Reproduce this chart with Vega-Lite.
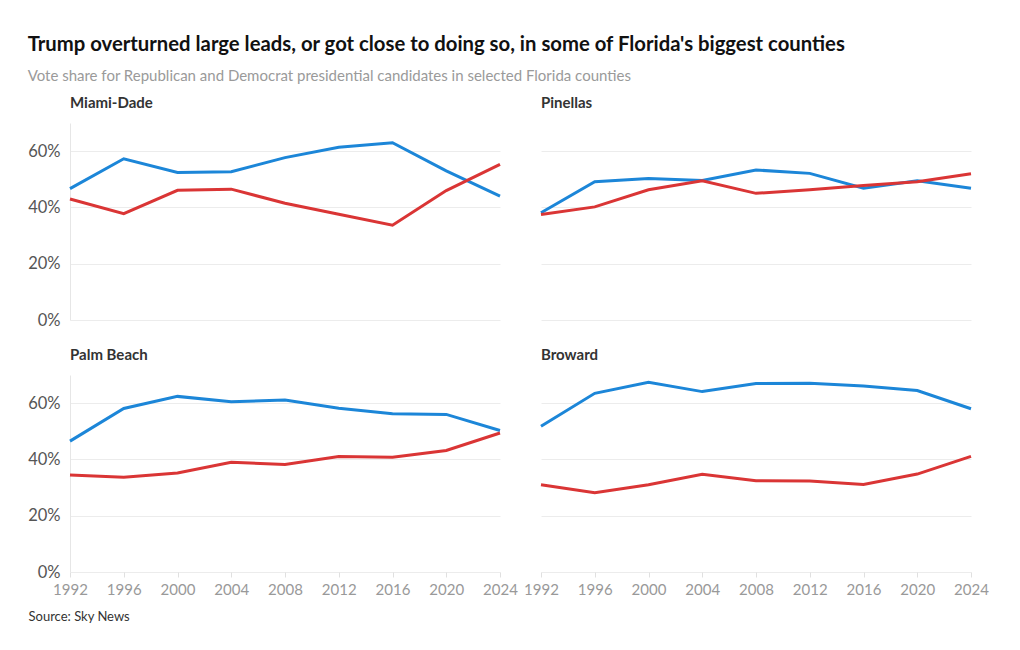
{
  "$schema": "https://vega.github.io/schema/vega-lite/v6.json",
  "padding": {"left": 27, "top": 34, "right": 10, "bottom": 10},
  "background": "white",
  "title": {
    "text": "Trump overturned large leads, or got close to doing so, in some of Florida's biggest counties",
    "subtitle": "Vote share for Republican and Democrat presidential candidates in selected Florida counties",
    "anchor": "start",
    "frame": "bounds",
    "font": "Lato",
    "fontSize": 20.3,
    "fontWeight": "bold",
    "color": "#111111",
    "subtitleFont": "Lato",
    "subtitleFontSize": 15,
    "subtitleColor": "#9a9a9a",
    "subtitlePadding": 14,
    "offset": 12
  },
  "data": {
    "values": [
      {"county": "Miami-Dade", "year": 1992, "party": "Democrat", "share": 46.7},
      {"county": "Miami-Dade", "year": 1996, "party": "Democrat", "share": 57.3},
      {"county": "Miami-Dade", "year": 2000, "party": "Democrat", "share": 52.4},
      {"county": "Miami-Dade", "year": 2004, "party": "Democrat", "share": 52.7},
      {"county": "Miami-Dade", "year": 2008, "party": "Democrat", "share": 57.7},
      {"county": "Miami-Dade", "year": 2012, "party": "Democrat", "share": 61.4},
      {"county": "Miami-Dade", "year": 2016, "party": "Democrat", "share": 63.0},
      {"county": "Miami-Dade", "year": 2020, "party": "Democrat", "share": 53.0},
      {"county": "Miami-Dade", "year": 2024, "party": "Democrat", "share": 44.0},
      {"county": "Miami-Dade", "year": 1992, "party": "Republican", "share": 43.0},
      {"county": "Miami-Dade", "year": 1996, "party": "Republican", "share": 37.8},
      {"county": "Miami-Dade", "year": 2000, "party": "Republican", "share": 46.1},
      {"county": "Miami-Dade", "year": 2004, "party": "Republican", "share": 46.5},
      {"county": "Miami-Dade", "year": 2008, "party": "Republican", "share": 41.5},
      {"county": "Miami-Dade", "year": 2012, "party": "Republican", "share": 37.6},
      {"county": "Miami-Dade", "year": 2016, "party": "Republican", "share": 33.7},
      {"county": "Miami-Dade", "year": 2020, "party": "Republican", "share": 46.0},
      {"county": "Miami-Dade", "year": 2024, "party": "Republican", "share": 55.3},
      {"county": "Pinellas", "year": 1992, "party": "Democrat", "share": 38.1},
      {"county": "Pinellas", "year": 1996, "party": "Democrat", "share": 49.1},
      {"county": "Pinellas", "year": 2000, "party": "Democrat", "share": 50.3},
      {"county": "Pinellas", "year": 2004, "party": "Democrat", "share": 49.6},
      {"county": "Pinellas", "year": 2008, "party": "Democrat", "share": 53.3},
      {"county": "Pinellas", "year": 2012, "party": "Democrat", "share": 52.1},
      {"county": "Pinellas", "year": 2016, "party": "Democrat", "share": 46.8},
      {"county": "Pinellas", "year": 2020, "party": "Democrat", "share": 49.5},
      {"county": "Pinellas", "year": 2024, "party": "Democrat", "share": 46.8},
      {"county": "Pinellas", "year": 1992, "party": "Republican", "share": 37.5},
      {"county": "Pinellas", "year": 1996, "party": "Republican", "share": 40.2},
      {"county": "Pinellas", "year": 2000, "party": "Republican", "share": 46.3},
      {"county": "Pinellas", "year": 2004, "party": "Republican", "share": 49.5},
      {"county": "Pinellas", "year": 2008, "party": "Republican", "share": 45.0},
      {"county": "Pinellas", "year": 2012, "party": "Republican", "share": 46.3},
      {"county": "Pinellas", "year": 2016, "party": "Republican", "share": 47.8},
      {"county": "Pinellas", "year": 2020, "party": "Republican", "share": 49.1},
      {"county": "Pinellas", "year": 2024, "party": "Republican", "share": 52.0},
      {"county": "Palm Beach", "year": 1992, "party": "Democrat", "share": 46.5},
      {"county": "Palm Beach", "year": 1996, "party": "Democrat", "share": 58.1},
      {"county": "Palm Beach", "year": 2000, "party": "Democrat", "share": 62.4},
      {"county": "Palm Beach", "year": 2004, "party": "Democrat", "share": 60.5},
      {"county": "Palm Beach", "year": 2008, "party": "Democrat", "share": 61.1},
      {"county": "Palm Beach", "year": 2012, "party": "Democrat", "share": 58.2},
      {"county": "Palm Beach", "year": 2016, "party": "Democrat", "share": 56.2},
      {"county": "Palm Beach", "year": 2020, "party": "Democrat", "share": 56.0},
      {"county": "Palm Beach", "year": 2024, "party": "Democrat", "share": 50.3},
      {"county": "Palm Beach", "year": 1992, "party": "Republican", "share": 34.5},
      {"county": "Palm Beach", "year": 1996, "party": "Republican", "share": 33.7},
      {"county": "Palm Beach", "year": 2000, "party": "Republican", "share": 35.2},
      {"county": "Palm Beach", "year": 2004, "party": "Republican", "share": 39.0},
      {"county": "Palm Beach", "year": 2008, "party": "Republican", "share": 38.2},
      {"county": "Palm Beach", "year": 2012, "party": "Republican", "share": 41.0},
      {"county": "Palm Beach", "year": 2016, "party": "Republican", "share": 40.8},
      {"county": "Palm Beach", "year": 2020, "party": "Republican", "share": 43.2},
      {"county": "Palm Beach", "year": 2024, "party": "Republican", "share": 49.4},
      {"county": "Broward", "year": 1992, "party": "Democrat", "share": 51.8},
      {"county": "Broward", "year": 1996, "party": "Democrat", "share": 63.5},
      {"county": "Broward", "year": 2000, "party": "Democrat", "share": 67.4},
      {"county": "Broward", "year": 2004, "party": "Democrat", "share": 64.1},
      {"county": "Broward", "year": 2008, "party": "Democrat", "share": 67.0},
      {"county": "Broward", "year": 2012, "party": "Democrat", "share": 67.1},
      {"county": "Broward", "year": 2016, "party": "Democrat", "share": 66.1},
      {"county": "Broward", "year": 2020, "party": "Democrat", "share": 64.5},
      {"county": "Broward", "year": 2024, "party": "Democrat", "share": 58.0},
      {"county": "Broward", "year": 1992, "party": "Republican", "share": 31.0},
      {"county": "Broward", "year": 1996, "party": "Republican", "share": 28.2},
      {"county": "Broward", "year": 2000, "party": "Republican", "share": 31.0},
      {"county": "Broward", "year": 2004, "party": "Republican", "share": 34.7},
      {"county": "Broward", "year": 2008, "party": "Republican", "share": 32.4},
      {"county": "Broward", "year": 2012, "party": "Republican", "share": 32.3},
      {"county": "Broward", "year": 2016, "party": "Republican", "share": 31.1},
      {"county": "Broward", "year": 2020, "party": "Republican", "share": 34.8},
      {"county": "Broward", "year": 2024, "party": "Republican", "share": 41.1}
    ]
  },
  "spacing": 19,
  "vconcat": [
    {
      "bounds": "flush",
      "spacing": 41,
      "hconcat": [
        {
          "width": 430, "height": 197,
          "title": {"text": "Miami-Dade"},
          "transform": [{"filter": "datum.county === 'Miami-Dade'"}],
          "mark": {"type": "line", "strokeWidth": 3},
          "encoding": {
            "x": {"field": "year", "type": "quantitative", "scale": {"domain": [1992, 2024], "nice": false, "zero": false}, "axis": null},
            "y": {"field": "share", "type": "quantitative", "scale": {"domain": [0, 70], "nice": false}, "axis": {"values": [0, 20, 40, 60], "labelExpr": "datum.value + '%'", "domain": true, "title": null}},
            "color": {"field": "party", "type": "nominal", "scale": {"domain": ["Democrat", "Republican"], "range": ["#1c86d8", "#da3535"]}, "legend": null}
          }
        },
        {
          "width": 430, "height": 197,
          "title": {"text": "Pinellas"},
          "transform": [{"filter": "datum.county === 'Pinellas'"}],
          "mark": {"type": "line", "strokeWidth": 3},
          "encoding": {
            "x": {"field": "year", "type": "quantitative", "scale": {"domain": [1992, 2024], "nice": false, "zero": false}, "axis": null},
            "y": {"field": "share", "type": "quantitative", "scale": {"domain": [0, 70], "nice": false}, "axis": {"values": [0, 20, 40, 60], "labels": false, "domain": false, "title": null}},
            "color": {"field": "party", "type": "nominal", "scale": {"domain": ["Democrat", "Republican"], "range": ["#1c86d8", "#da3535"]}, "legend": null}
          }
        }
      ]
    },
    {
      "bounds": "flush",
      "spacing": 41,
      "hconcat": [
        {
          "width": 430, "height": 197,
          "title": {"text": "Palm Beach"},
          "transform": [{"filter": "datum.county === 'Palm Beach'"}],
          "mark": {"type": "line", "strokeWidth": 3},
          "encoding": {
            "x": {"field": "year", "type": "quantitative", "scale": {"domain": [1992, 2024], "nice": false, "zero": false}, "axis": {"values": [1992, 1996, 2000, 2004, 2008, 2012, 2016, 2020, 2024], "format": "d", "title": "Source: Sky News", "titleAnchor": "start", "titleAlign": "left", "titleX": -42, "titleY": 38, "titleBaseline": "top", "titleFont": "Lato", "titleFontSize": 13, "titleFontWeight": "normal", "titleColor": "#333333"}},
            "y": {"field": "share", "type": "quantitative", "scale": {"domain": [0, 70], "nice": false}, "axis": {"values": [0, 20, 40, 60], "labelExpr": "datum.value + '%'", "domain": true, "title": null}},
            "color": {"field": "party", "type": "nominal", "scale": {"domain": ["Democrat", "Republican"], "range": ["#1c86d8", "#da3535"]}, "legend": null}
          }
        },
        {
          "width": 430, "height": 197,
          "title": {"text": "Broward"},
          "transform": [{"filter": "datum.county === 'Broward'"}],
          "mark": {"type": "line", "strokeWidth": 3},
          "encoding": {
            "x": {"field": "year", "type": "quantitative", "scale": {"domain": [1992, 2024], "nice": false, "zero": false}, "axis": {"values": [1992, 1996, 2000, 2004, 2008, 2012, 2016, 2020, 2024], "format": "d", "title": null}},
            "y": {"field": "share", "type": "quantitative", "scale": {"domain": [0, 70], "nice": false}, "axis": {"values": [0, 20, 40, 60], "labels": false, "domain": false, "title": null}},
            "color": {"field": "party", "type": "nominal", "scale": {"domain": ["Democrat", "Republican"], "range": ["#1c86d8", "#da3535"]}, "legend": null}
          }
        }
      ]
    }
  ],
  "config": {
    "font": "Lato",
    "view": {"stroke": null},
    "title": {"anchor": "start", "frame": "group", "fontSize": 15, "fontWeight": "bold", "color": "#333333", "offset": 12},
    "axisX": {"grid": false, "domain": false, "ticks": true, "tickSize": 5, "tickColor": "#e0e0e0", "labelFontSize": 15, "labelColor": "#999999", "labelPadding": 5, "labelFlush": false},
    "axisY": {"grid": true, "gridColor": "#ececec", "domainColor": "#e6e6e6", "ticks": false, "labelFontSize": 16.5, "labelColor": "#555555", "labelPadding": 10}
  }
}
